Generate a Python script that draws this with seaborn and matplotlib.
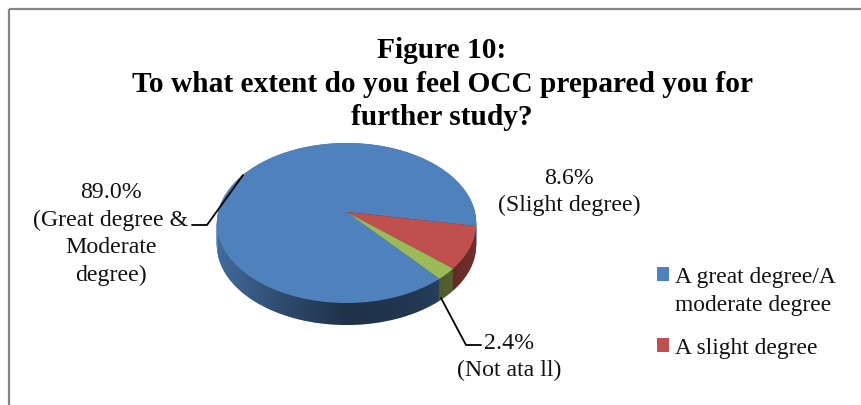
import numpy as np
import matplotlib
matplotlib.use("Agg")
import matplotlib.pyplot as plt
import seaborn as sns
from matplotlib.transforms import Transform
from matplotlib.path import Path
from matplotlib.patches import PathPatch, Rectangle
from matplotlib.colors import LinearSegmentedColormap

title = "Figure 10:\nTo what extent do you feel OCC prepared you for\nfurther study?"
categories = ["A great degree/A\nmoderate degree", "A slight degree", "Not at all"]
values = [89.0, 8.6, 2.4]
colors = ["#4F81BD", "#C0504D", "#9BBB59"]
label_great = "89.0%\n(Great degree &\nModerate\ndegree)"
label_slight = "8.6%\n(Slight degree)"
label_not = "2.4%\n(Not ata ll)"

sns.set_theme(style="white")
plt.rcParams["font.family"] = ["Liberation Serif", "DejaVu Serif"]

W, H = 861, 405
fig = plt.figure(figsize=(W / 100, H / 100), dpi=100, facecolor="white")
ax = fig.add_axes([0, 0, 1, 1])


class Tilt(Transform):
    """Perspective view of the unit-circle pie, mapped to canvas pixels."""
    input_dims = output_dims = 2
    is_affine = False

    def __init__(self, cx=346.5, cy=212, k=128.5, a=78.5, c=0.1375, drop=0):
        super().__init__()
        self.p = (cx, cy, k, a, c, drop)

    def transform_non_affine(self, v):
        cx, cy, k, a, c, drop = self.p
        v = np.asarray(v, float)
        w = 1 + c * v[:, 1]
        return np.column_stack([cx + k * v[:, 0] / w, cy - a * v[:, 1] / w + drop])

    def inverted(self):
        raise NotImplementedError


DEPTH = 22
pie_kw = dict(colors=colors, startangle=310.4, counterclock=False, radius=1,
              wedgeprops=dict(linewidth=0))
top = None
for d in range(DEPTH, -1, -1):
    wedges, _ = ax.pie(values, **pie_kw)
    for wd in wedges:
        wd.set_transform(Tilt(drop=d) + ax.transData)
        wd.set_zorder(2 if d else 4)
    if d == 0:
        top = wedges

ax.set_aspect("auto")
ax.set_axis_off()

# shading of the rim: a left-to-right darkening clipped to the swept outline
theta = np.linspace(0, 2 * np.pi, 361)
ring = np.column_stack([np.cos(theta), np.sin(theta)])
t0 = Tilt().transform_non_affine(ring)
t1 = Tilt(drop=DEPTH).transform_non_affine(ring)
upper = t0[t0[:, 1] <= 222]
lower = t1[t1[:, 1] > 222 + DEPTH]
upper = upper[np.argsort(upper[:, 0])]
lower = lower[np.argsort(-lower[:, 0])]
outline = np.vstack([upper, lower, upper[:1]])
shade = LinearSegmentedColormap.from_list(
    "rim", [(0, 0, 0, 0.18), (0, 0, 0, 0.42), (0, 0, 0, 0.62), (0, 0, 0, 0.58), (0, 0, 0, 0.42)])
im = ax.imshow(np.linspace(0, 1, 256)[None, :], cmap=shade, extent=(218, 476, 350, 130),
               aspect="auto", zorder=3, interpolation="bilinear")
im.set_clip_path(PathPatch(Path(outline), transform=ax.transData))
ax.set_xlim(0, W)
ax.set_ylim(H, 0)

# chart frame
ax.add_patch(Rectangle((9, 9), W + 20, H + 20, fill=False, ec="#868686", lw=1.6, zorder=1))

ax.text(442, 84, title, ha="center", va="center", fontsize=21.2, fontweight="bold",
        color="black", linespacing=1.3, zorder=6)

text_kw = dict(ha="center", va="center", fontsize=17.2, color="#111111", linespacing=1.4, zorder=6)
ax.text(111, 234, label_great, **text_kw)
ax.text(569, 192, label_slight, **text_kw)
ax.text(509, 357, label_not, **text_kw)

ax.plot([243, 207, 192], [175, 225, 225], color="black", lw=1.3, zorder=5)
ax.plot([441, 466, 481], [298, 345, 345], color="black", lw=1.3, zorder=5)

leg = ax.legend(top[:2], categories[:2], loc="upper left", bbox_to_anchor=(657, 267),
                bbox_transform=ax.transData, frameon=False, fontsize=16.9,
                handlelength=0.52, handleheight=0.52, handletextpad=0.26,
                labelspacing=0.95, borderpad=0, borderaxespad=0)
for t in leg.get_texts():
    t.set_color("#111111")
    t.set_linespacing(1.45)
for col in leg._legend_handle_box.get_children():
    for row in col.get_children():
        row.align = "top"

fig.savefig("out.png", dpi=100, facecolor="white")
